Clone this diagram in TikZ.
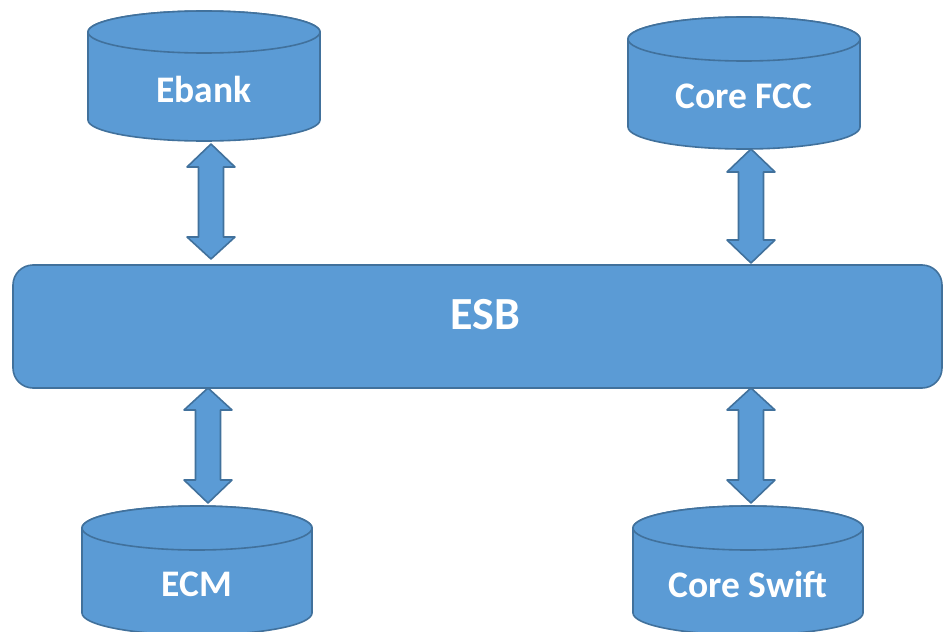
\documentclass[tikz,border=0pt]{standalone}
\usepackage{fontspec}
\setmainfont{Carlito}
\definecolor{boxfill}{HTML}{5B9BD5}
\definecolor{boxline}{HTML}{41719C}
% cylinder: name, cx, top centre y, bottom centre y, rx, ry, label, label y
\newcommand\dbcyl[8]{%
  \path[shapestyle] (#2-#5,#3) -- (#2-#5,#4)
    arc[start angle=180, end angle=0, x radius=#5, y radius=#6]
    -- (#2+#5,#3)
    arc[start angle=0, end angle=-180, x radius=#5, y radius=#6] -- cycle;
  \draw[shapestyle] (#2,#3) ellipse[x radius=#5, y radius=#6];
  \node[lbl] (#1) at (#2,#8) {#7};
}
% double arrow: name, cx, top tip, head base, lower head base, bottom tip
\newcommand\dblarrow[6]{%
  \coordinate (#1t) at (#2,#3);
  \coordinate (#1b) at (#2,#6);
  \path[shapestyle] (#1t) -- (#2+24,#4) -- (#2+12.5,#4) -- (#2+12.5,#5)
    -- (#2+24,#5) -- (#1b) -- (#2-24,#5) -- (#2-12.5,#5) -- (#2-12.5,#4)
    -- (#2-24,#4) -- cycle;
}
\begin{document}
\begin{tikzpicture}[x=1pt,y=-1pt,
  shapestyle/.style={fill=boxfill,draw=boxline,line width=1.6pt,line join=round},
  lbl/.style={text=white,font=\bfseries\fontsize{37.5}{42}\selectfont,inner sep=0pt},
  biglbl/.style={text=white,font=\bfseries\fontsize{46}{52}\selectfont,inner sep=0pt}]
\useasboundingbox (0,0) rectangle (943,632);

% central bus
\path[shapestyle,rounded corners=20pt] (13,265) rectangle (942,388);
\node[biglbl] (esb) at (485,315) {ESB};

% systems attached to the bus
\dbcyl{ebank}{204}{32}{120}{116}{21}{Ebank}{89}
\dbcyl{fcc}{744}{39}{127}{116}{22}{Core FCC}{96}
\dbcyl{ecm}{197}{528}{613}{115}{22}{ECM}{584}
\dbcyl{swift}{748}{528}{613}{115}{22}{Core Swift}{584}

% links to the bus
\dblarrow{a}{211}{144}{167}{237}{259}
\dblarrow{b}{751}{149}{172}{240}{263}
\dblarrow{c}{208}{388}{410}{480}{503}
\dblarrow{d}{751}{388}{410}{480}{503}
\end{tikzpicture}
\end{document}
